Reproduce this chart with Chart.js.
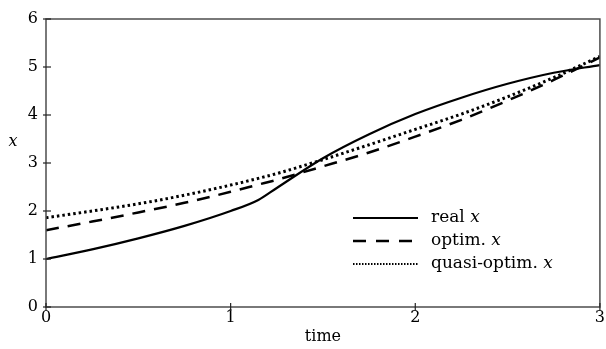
<!DOCTYPE html>
<html>
<head>
<meta charset="utf-8">
<script src="https://cdn.jsdelivr.net/npm/chart.js@4.4.0/dist/chart.umd.min.js"></script>
<style>
  html, body { margin: 0; padding: 0; background: #fff; }
  #wrap { width: 606px; height: 349px; }
</style>
</head>
<body>
<div id="wrap"><canvas id="chart" width="606" height="349"></canvas></div>
<script>
// values
const times  = [0, 0.25, 0.5, 0.75, 1, 1.15, 1.25, 1.5, 1.75, 2, 2.25, 2.5, 2.75, 3];
const realX  = [1.0, 1.2, 1.43, 1.69, 2.0, 2.23, 2.48, 3.1, 3.6, 4.02, 4.36, 4.65, 4.88, 5.04];
const optimX = [1.6, 1.78, 1.97, 2.17, 2.4, 2.55, 2.65, 2.93, 3.22, 3.55, 3.9, 4.3, 4.73, 5.2];
const quasiX = [1.86, 2.0, 2.15, 2.33, 2.54, 2.68, 2.78, 3.07, 3.38, 3.7, 4.02, 4.38, 4.78, 5.22];
const seriesNames = ['real', 'optim.', 'quasi-optim.'];
const xTickValues = [0, 1, 2, 3];
const yTickValues = [0, 1, 2, 3, 4, 5, 6];

const FONT = "'DejaVu Serif', 'Liberation Serif', serif";
const AXIS_COLOR = '#4d4d4d';

const toPoints = ys => times.map((t, i) => ({ x: t, y: ys[i] }));

function lineStyle(dash, width, legendDash, legendWidth) {
    return {
        borderColor: '#000',
        borderWidth: width,
        borderDash: dash,
        borderCapStyle: 'butt',
        pointRadius: 0,
        fill: false,
        cubicInterpolationMode: 'monotone',
        legendDash: legendDash,
        legendWidth: legendWidth
    };
}

// frame, inside ticks, axis titles and the legend box
const framePlugin = {
    id: 'frame',
    afterDraw(chart) {
        const { ctx, chartArea: a, scales } = chart;
        const line = (x1, y1, x2, y2) => { ctx.beginPath(); ctx.moveTo(x1, y1); ctx.lineTo(x2, y2); ctx.stroke(); };
        ctx.save();
        ctx.strokeStyle = AXIS_COLOR;
        ctx.lineWidth = 1.5;
        ctx.strokeRect(a.left, a.top, a.right - a.left, a.bottom - a.top);

        ctx.strokeStyle = '#222';
        ctx.lineWidth = 1.2;
        scales.x.ticks.forEach(t => {
            const px = scales.x.getPixelForValue(t.value);
            line(px, a.bottom - 4, px, a.bottom + 4);
        });
        scales.y.ticks.forEach(t => {
            const py = scales.y.getPixelForValue(t.value);
            line(a.left - 3, py, a.left + 5, py);
        });

        ctx.fillStyle = '#000';
        ctx.textBaseline = 'middle';
        ctx.textAlign = 'center';
        ctx.font = `italic 16px ${FONT}`;
        ctx.fillText('x', 13, 142);
        ctx.font = `16px ${FONT}`;
        ctx.fillText('time', (a.left + a.right) / 2, 337);

        // legend
        ctx.textAlign = 'left';
        chart.data.datasets.forEach((ds, i) => {
            const y = 218 + i * 23;
            ctx.strokeStyle = '#000';
            ctx.lineWidth = ds.legendWidth;
            ctx.setLineDash(ds.legendDash);
            line(353, y, 418, y);
            ctx.setLineDash([]);
            ctx.font = `17px ${FONT}`;
            ctx.fillText(seriesNames[i] + ' ', 431, y);
            const w = ctx.measureText(seriesNames[i] + ' ').width;
            ctx.font = `italic 17px ${FONT}`;
            ctx.fillText('x', 431 + w, y);
        });
        ctx.restore();
    }
};

new Chart(document.getElementById('chart'), {
    type: 'line',
    data: {
        datasets: [
            { label: 'real x', data: toPoints(realX), ...lineStyle([], 2.2, [], 2.2) },
            { label: 'optim. x', data: toPoints(optimX), ...lineStyle([13, 9], 2.5, [13, 10], 2.5) },
            { label: 'quasi-optim. x', data: toPoints(quasiX), ...lineStyle([2.5, 3], 3, [1.5, 1.5], 1.8) }
        ]
    },
    options: {
        responsive: false,
        animation: false,
        layout: { padding: { top: 19, right: 6, left: 0, bottom: 0 } },
        plugins: { legend: { display: false }, tooltip: { enabled: false } },
        scales: {
            x: {
                type: 'linear',
                min: 0,
                max: 3,
                afterBuildTicks: s => { s.ticks = xTickValues.map(v => ({ value: v })); },
                afterFit: s => { s.height = 42; },
                grid: { display: false, drawTicks: false },
                border: { display: false },
                ticks: { color: '#000', padding: 1, font: { family: FONT, size: 16 } }
            },
            y: {
                min: 0,
                max: 6,
                afterBuildTicks: s => { s.ticks = yTickValues.map(v => ({ value: v })); },
                afterFit: s => { s.width = 46; },
                grid: { display: false, drawTicks: false },
                border: { display: false },
                ticks: { color: '#000', padding: 8, font: { family: FONT, size: 16 } }
            }
        }
    },
    plugins: [framePlugin]
});
</script>
</body>
</html>
